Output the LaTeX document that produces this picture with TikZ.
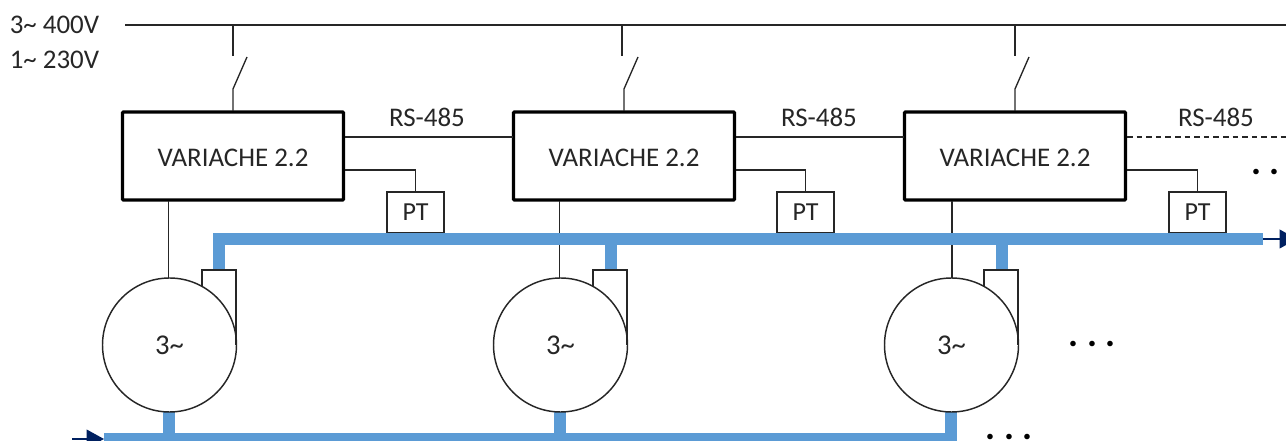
\documentclass[tikz,border=0pt]{standalone}
\usepackage{fontspec}
\setmainfont{Carlito}
\usetikzlibrary{arrows.meta}
\definecolor{busblue}{HTML}{5B9BD5}
\definecolor{navy}{HTML}{002060}
\definecolor{ink}{HTML}{262626}
\tikzset{
  wire/.style={draw=ink,line width=1pt},
  ctrl/.style={draw=black,line width=2.4pt,minimum width=167.25pt-1.6pt,minimum height=67.5pt-1.6pt,inner sep=0pt,rounded corners=0.6pt,font=\fontsize{20.2pt}{22pt}\selectfont,text=ink,text height=15.2pt,text depth=0pt},
  sensor/.style={draw=ink,line width=1pt,minimum width=42.75pt,minimum height=30.75pt,inner sep=0pt,font=\fontsize{19.5pt}{22pt}\selectfont,text=ink},
  pump/.style={circle,draw=ink,line width=1.1pt,minimum size=100.5pt,inner sep=0pt,font=\fontsize{21.5pt}{24pt}\selectfont,text=ink},
  lbl/.style={inner sep=0pt,font=\fontsize{20.2pt}{22pt}\selectfont,text=ink},
  dotsl/.style={inner sep=0pt,font=\fontsize{28pt}{28pt}\selectfont\bfseries,text=black},
  bus/.style={draw=busblue,line width=9pt},
  flow/.style={draw=navy,line width=1.2pt,-{Triangle[length=13pt,width=14pt]}}
}
\begin{document}
\begin{tikzpicture}[x=0.75pt,y=-0.75pt]
\useasboundingbox (0,0) rectangle (1286,441);
\clip (0,0) rectangle (1286,441);
% supply
\node[lbl,anchor=west] (l400) at (9.5,25) {3\textasciitilde{} 400V};
\node[lbl,anchor=west] (l230) at (9.5,60) {1\textasciitilde{} 230V};
\coordinate (supA) at (125,25);
\coordinate (supB) at (1286,25);
\draw[wire] (supA) -- (supB);
% flow arrows
\coordinate (outS) at (1263,239);
\coordinate (outE) at (1297,239);
\coordinate (inS) at (72,439);
\coordinate (inE) at (104,439);
\draw[flow] (outS) -- (outE);
\draw[flow] (inS) -- (inE);
% units
\foreach \i/\bx/\sw/\swb/\px/\lx in {1/233/233/233/415.5/168.5, 2/624/622/624/805.5/559.5, 3/1015/1015/1015/1197.5/952}{
  \node[ctrl] (v\i) at (\bx,156) {VARIACHE 2.2};
  \node[sensor] (pt\i) at (\px,212.5) {PT};
  % switch
  \coordinate (a\i) at (\sw,25);
  \coordinate (b\i) at (\sw,56);
  \coordinate (c\i) at ({\swb+14},57);
  \coordinate (d\i) at (\swb,89);
  \coordinate (h\i) at (\swb,111);
  \draw[wire] (a\i) -- (b\i);
  \draw[wire] (c\i) -- (d\i) -- (h\i);
  % sensor wire
  \coordinate (s\i) at ({\bx+112},170);
  \draw[wire] (s\i) -| (pt\i.north);
  % motor feed
  \coordinate (f\i) at (\lx,201);
  \coordinate (g\i) at (\lx,278);
  \draw[wire] (f\i) -- (g\i);
}
% RS-485
\coordinate (r1) at (345,137);
\coordinate (r2) at (513,137);
\coordinate (r3) at (736,137);
\coordinate (r4) at (904,137);
\coordinate (r5) at (1127,137);
\coordinate (r6) at (1286,137);
\draw[wire] (r1) -- (r2);
\draw[wire] (r3) -- (r4);
\draw[wire,dash pattern=on 4.2pt off 3pt] (r5) -- (r6);
\node[lbl] (rs1) at (427,117) {RS-485};
\node[lbl] (rs2) at (819,117) {RS-485};
\node[lbl] (rs3) at (1216,117) {RS-485};
% buses
\coordinate (tb1) at (213,239);
\coordinate (tb2) at (1263,239);
\coordinate (bb1) at (104,439);
\coordinate (bb2) at (957,439);
\foreach \i/\upx/\dnx in {1/219/169,2/610.5/560,3/1001.5/951}{
  \coordinate (up\i) at (\upx,239);
  \coordinate (upb\i) at (\upx,270);
  \coordinate (dn\i) at (\dnx,412);
  \coordinate (dnb\i) at (\dnx,439);
  \draw[bus] (up\i) -- (upb\i);
  \draw[bus] (dn\i) -- (dnb\i);
}
\draw[bus] (tb1) -- (tb2);
\draw[bus] (bb1) -- (bb2);
% pumps with volute
\foreach \i/\vl/\vr/\mx in {1/202/236/169.5, 2/593/627/560.5, 3/984/1018/951.5}{
  \node[pump] (m\i) at (\mx,345) {3\textasciitilde};
  \coordinate (oa\i) at (\vl,286);
  \coordinate (ob\i) at (\vl,270);
  \coordinate (oc\i) at (\vr,270);
  \coordinate (od\i) at (\vr,345);
  \draw[wire,line join=miter] (oa\i) -- (ob\i) -- (oc\i) -- (od\i);
}
% ellipsis
\node[dotsl] (dots1) at (1092,344) {.\hspace{6.3pt}.\hspace{6.3pt}.};
\node[dotsl] (dots2) at (1009,437) {.\hspace{6.3pt}.\hspace{6.3pt}.};
\node[dotsl,anchor=west] (dots3) at (1251,172) {.\hspace{6.3pt}.};
\end{tikzpicture}
\end{document}
